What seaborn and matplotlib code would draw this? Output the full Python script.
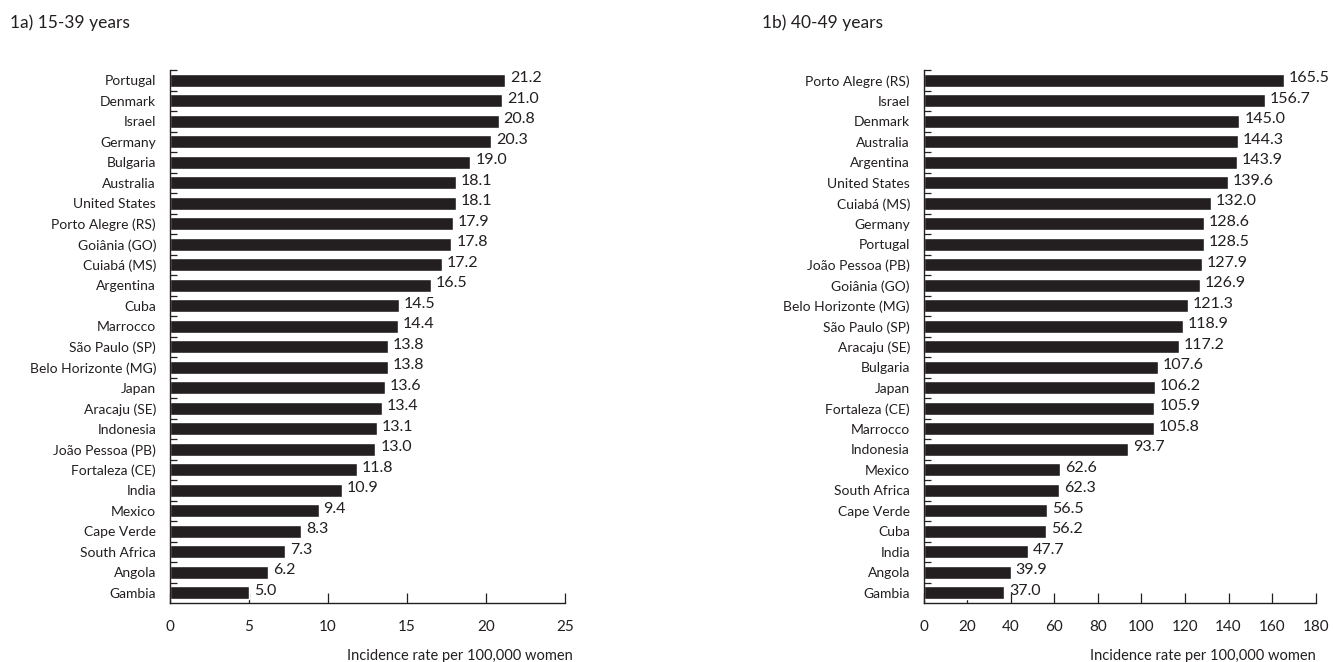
import matplotlib
matplotlib.use("Agg")
import matplotlib.pyplot as plt
import seaborn as sns
import pandas as pd
import numpy as np

# Incidence per 100,000 women, 15-39 years
places_young = ["Portugal", "Denmark", "Israel", "Germany", "Bulgaria", "Australia",
                "United States", "Porto Alegre (RS)", "Goiânia (GO)", "Cuiabá (MS)",
                "Argentina", "Cuba", "Marrocco", "São Paulo (SP)", "Belo Horizonte (MG)",
                "Japan", "Aracaju (SE)", "Indonesia", "João Pessoa (PB)", "Fortaleza (CE)",
                "India", "Mexico", "Cape Verde", "South Africa", "Angola", "Gambia"]
rates_young = [21.2, 21.0, 20.8, 20.3, 19.0, 18.1, 18.1, 17.9, 17.8, 17.2, 16.5, 14.5,
               14.4, 13.8, 13.8, 13.6, 13.4, 13.1, 13.0, 11.8, 10.9, 9.4, 8.3, 7.3, 6.2, 5.0]

# Incidence per 100,000 women, 40-49 years
places_mid = ["Porto Alegre (RS)", "Israel", "Denmark", "Australia", "Argentina",
              "United States", "Cuiabá (MS)", "Germany", "Portugal", "João Pessoa (PB)",
              "Goiânia (GO)", "Belo Horizonte (MG)", "São Paulo (SP)", "Aracaju (SE)",
              "Bulgaria", "Japan", "Fortaleza (CE)", "Marrocco", "Indonesia", "Mexico",
              "South Africa", "Cape Verde", "Cuba", "India", "Angola", "Gambia"]
rates_mid = [165.5, 156.7, 145.0, 144.3, 143.9, 139.6, 132.0, 128.6, 128.5, 127.9, 126.9,
             121.3, 118.9, 117.2, 107.6, 106.2, 105.9, 105.8, 93.7, 62.6, 62.3, 56.5, 56.2,
             47.7, 39.9, 37.0]

titles = ["1a) 15-39 years", "1b) 40-49 years"]
xticks_young = [0, 5, 10, 15, 20, 25]
xticks_mid = [0, 20, 40, 60, 80, 100, 120, 140, 160, 180]
xlabel = "Incidence rate per 100,000 women"

sns.set_theme(style="white")
plt.rcParams["font.family"] = ["Lato", "DejaVu Sans"]

BAR = "#231f20"
TXT = "#231f20"

fig = plt.figure(figsize=(13.33, 6.62), dpi=100)
ax_l = fig.add_axes([0.1275, 0.089, 0.2965, 0.805])
ax_r = fig.add_axes([0.693, 0.089, 0.294, 0.805])

panels = [
    (ax_l, places_young, rates_young, xticks_young, titles[0], 0.0075, 8),
    (ax_r, places_mid, rates_mid, xticks_mid, titles[1], 0.5715, 0),
]

for ax, names, vals, xt, title, tx, xl_shift in panels:
    df = pd.DataFrame({"place": names, "rate": vals})
    sns.barplot(data=df, y="place", x="rate", orient="h", color=BAR,
                width=0.63, saturation=1, ax=ax)
    n = len(names)
    ax.set_ylim(n - 0.5, -0.5)
    ax.set_xlim(xt[0], xt[-1])
    ax.set_xticks(xt)
    ax.set_xticklabels([str(v) for v in xt], fontsize=11, color=TXT)
    ax.set_yticks(range(n))
    ax.set_yticklabels(names, fontsize=10, color=TXT)
    ax.set_yticks(np.arange(n) - 0.5, minor=True)
    ax.tick_params(axis="y", which="major", length=0, pad=10)
    ax.tick_params(axis="y", which="minor", direction="in", length=5, width=0.9,
                   color="#231f20", left=True)
    ax.tick_params(axis="x", which="major", direction="in", length=7, width=0.9,
                   color="#231f20", bottom=True, pad=12)
    ax.set_xlabel("")
    ax.set_ylabel("")
    for s in ["top", "right"]:
        ax.spines[s].set_visible(False)
    for s in ["left", "bottom"]:
        ax.spines[s].set_color("#231f20")
        ax.spines[s].set_linewidth(1.0)
    for i, v in enumerate(vals):
        ax.annotate(f"{v:.1f}", xy=(v, i), xytext=(3.5, 1.5), textcoords="offset points",
                    ha="left", va="center", fontsize=11.5, color=TXT)
    ax.annotate(xlabel, xy=(1.0, 0), xycoords="axes fraction", xytext=(xl_shift * 0.72, -38),
                textcoords="offset points", ha="right", va="center", fontsize=10.5,
                color=TXT)
    fig.text(tx, 0.966, title, fontsize=12.5, color=TXT, ha="left", va="center")

fig.savefig("out.png", dpi=100)
